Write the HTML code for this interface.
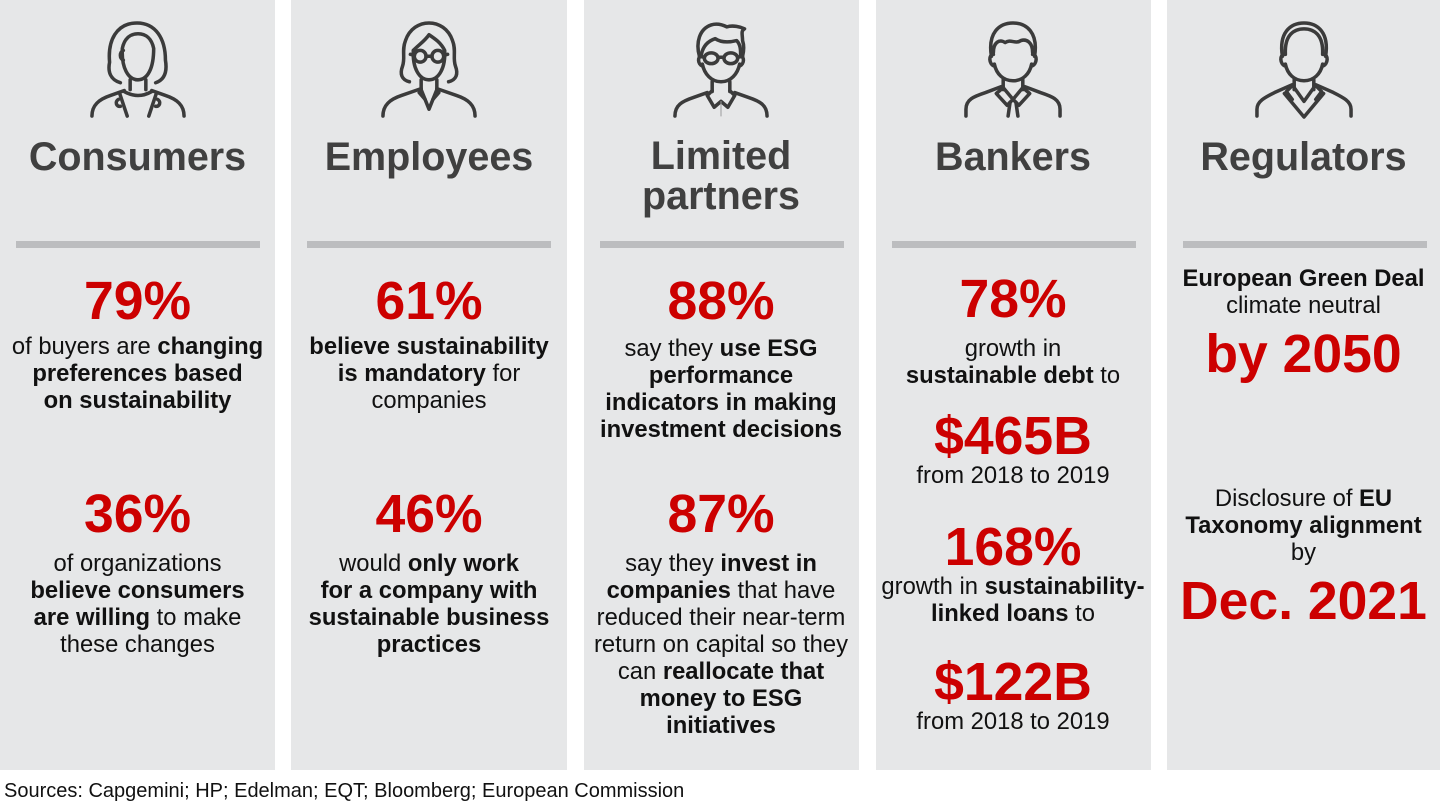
<!DOCTYPE html>
<html>
<head>
<meta charset="utf-8">
<style>
  html,body{margin:0;padding:0;background:#fff;}
  body{width:1440px;height:810px;position:relative;overflow:hidden;font-family:"Liberation Sans",Arial,sans-serif;}
  .col{position:absolute;top:0;height:770px;background:#e6e7e8;}
  .ic{position:absolute;top:21px;left:50%;margin-left:-49px;width:98px;height:98px;}
  .h{position:absolute;left:0;width:100%;text-align:center;font-weight:bold;font-size:39.5px;line-height:40px;color:#404040;white-space:nowrap;}
  .sep{position:absolute;left:16px;width:244px;top:241px;height:7px;background:#bcbdbf;}
  .n{position:absolute;left:0;width:100%;text-align:center;font-weight:bold;font-size:53.5px;line-height:54px;color:#cc0000;white-space:nowrap;}
  .b{position:absolute;left:0;width:100%;text-align:center;font-size:23.8px;line-height:27px;color:#111;white-space:nowrap;}
  .b b{font-weight:bold;}
  .src{position:absolute;left:4px;top:781px;font-size:20px;line-height:20px;color:#111;white-space:nowrap;}
  svg path, svg line, svg ellipse, svg circle{fill:none;stroke:#3b3b3b;stroke-width:3.6;stroke-linecap:round;stroke-linejoin:round;}
</style>
</head>
<body>

<!-- Column 1: Consumers -->
<div class="col" style="left:0;width:275px;">
  <svg class="ic" viewBox="0 0 100 100">
    <path d="M32,63 C22,60 19,52 21,42 C19,20 28,2 49,2 C68,2 78,18 78,40 C80,52 77,60 68,63"/>
    <path d="M34,28 C33,48 40,60 50,60 C60,60 66,48 66,28 C64,18 58,13 50,13 C42,13 36,18 34,28"/>
    <path d="M35,30 C31,32 31,38 35,40"/>
    <path d="M42,60 L42,70"/><path d="M58,60 L58,70"/>
    <path d="M36,72 Q50,80 64,72"/>
    <path d="M3,97 C3,86 10,80 22,76 L36,71"/>
    <path d="M97,97 C97,86 90,80 78,76 L64,71"/>
    <path d="M31,73 L39,97"/><path d="M69,73 L61,97"/>
    <path d="M30,80 C26,82 28,88 32,87"/><path d="M70,80 C74,82 72,88 68,87"/>
  </svg>
  <div class="h" style="top:137.3px;">Consumers</div>
  <div class="sep"></div>
  <div class="n" style="top:275px;">79%</div>
  <div class="b" style="top:333.2px;">of buyers are <b>changing</b><br><b>preferences based</b><br><b>on sustainability</b></div>
  <div class="n" style="top:487.8px;">36%</div>
  <div class="b" style="top:550px;">of organizations<br><b>believe consumers</b><br><b>are willing</b> to make<br>these changes</div>
</div>

<!-- Column 2: Employees -->
<div class="col" style="left:291px;width:276px;">
  <svg class="ic" viewBox="0 0 100 100">
    <path d="M30,62 C22,60 20,54 23,46 C26,38 22,30 26,20 C30,8 40,2 50,2 C60,2 70,8 74,20 C78,30 74,38 77,46 C80,54 78,60 70,62"/>
    <path d="M34,30 C33,48 40,60 50,60 C60,60 67,48 66,30 C62,22 56,18 50,14 C46,20 40,24 34,30"/>
    <circle cx="41" cy="36" r="6"/><circle cx="59" cy="36" r="6"/>
    <path d="M47,36 L53,36"/><path d="M35,35 L31,34"/><path d="M65,35 L69,34"/>
    <path d="M42,60 L42,70"/><path d="M58,60 L58,70"/>
    <path d="M42,70 L50,90 L58,70"/>
    <path d="M3,97 C3,86 10,80 22,76 L42,69"/>
    <path d="M97,97 C97,86 90,80 78,76 L58,69"/>
    <path d="M40,73 L46,80"/><path d="M60,73 L54,80"/>
  </svg>
  <div class="h" style="top:137.3px;">Employees</div>
  <div class="sep"></div>
  <div class="n" style="top:275px;">61%</div>
  <div class="b" style="top:333.2px;"><b>believe sustainability</b><br><b>is mandatory</b> for<br>companies</div>
  <div class="n" style="top:487.8px;">46%</div>
  <div class="b" style="top:550px;">would <b>only work</b><br><b>for a company with</b><br><b>sustainable business</b><br><b>practices</b></div>
</div>

<!-- Column 3: Limited partners -->
<div class="col" style="left:583.5px;width:275px;">
  <svg class="ic" viewBox="0 0 100 100">
    <path d="M28,36 C24,22 28,8 40,4 C46,2 52,4 56,6 C62,4 70,6 74,8 C70,10 72,14 72,20 C74,26 73,32 72,36"/>
    <path d="M30,34 C32,24 38,20 44,18 C50,22 58,22 66,20 C70,24 70,30 70,34"/>
    <path d="M30,36 C26,36 26,44 31,46"/><path d="M70,36 C74,36 74,44 69,46"/>
    <path d="M31,44 C33,54 40,62 50,62 C60,62 67,54 69,44"/>
    <ellipse cx="40" cy="38" rx="7" ry="5.5"/><ellipse cx="60" cy="38" rx="7" ry="5.5"/>
    <path d="M47,37 L53,37"/><path d="M33,37 L28,36"/><path d="M67,37 L72,36"/>
    <path d="M41,62 L41,72"/><path d="M59,62 L59,72"/>
    <path d="M3,97 C3,86 10,82 22,78 L36,73"/>
    <path d="M97,97 C97,86 90,82 78,78 L64,73"/>
    <path d="M41,71 L36,76 L43,88 L50,82 L57,88 L64,76 L59,71"/>
    <path d="M50,82 L50,97" style="stroke-width:1;stroke:#999"/>
  </svg>
  <div class="h" style="top:136.3px;">Limited<br>partners</div>
  <div class="sep"></div>
  <div class="n" style="top:274.5px;">88%</div>
  <div class="b" style="top:335px;">say they <b>use ESG</b><br><b>performance</b><br><b>indicators in making</b><br><b>investment decisions</b></div>
  <div class="n" style="top:487.8px;">87%</div>
  <div class="b" style="top:550px;">say they <b>invest in</b><br><b>companies</b> that have<br>reduced their near-term<br>return on capital so they<br>can <b>reallocate that</b><br><b>money to ESG</b><br><b>initiatives</b></div>
</div>

<!-- Column 4: Bankers -->
<div class="col" style="left:875.5px;width:275px;">
  <svg class="ic" viewBox="0 0 100 100">
    <path d="M28,36 C24,12 36,2 50,2 C64,2 76,12 72,36"/>
    <path d="M30,32 C30,22 36,18 42,22 C48,18 52,24 58,20 C64,18 70,22 70,32"/>
    <path d="M30,34 C25,34 25,44 31,46"/><path d="M70,34 C75,34 75,44 69,46"/>
    <path d="M31,44 C33,54 40,61 50,61 C60,61 67,54 69,44"/>
    <path d="M40,60 L40,70"/><path d="M60,60 L60,70"/>
    <path d="M2,97 L2,90 C2,80 10,77 22,73 L38,67"/>
    <path d="M98,97 L98,90 C98,80 90,77 78,73 L62,67"/>
    <path d="M40,68 L33,74 L44,86 L50,80 L56,86 L67,74 L60,68"/>
    <path d="M40,68 L50,80 L60,68"/>
    <path d="M47,83 L45,97"/><path d="M53,83 L55,97"/>
  </svg>
  <div class="h" style="top:137.3px;">Bankers</div>
  <div class="sep"></div>
  <div class="n" style="top:273px;">78%</div>
  <div class="b" style="top:335px;">growth in<br><b>sustainable debt</b> to</div>
  <div class="n" style="top:409.5px;">$465B</div>
  <div class="b" style="top:461.5px;">from 2018 to 2019</div>
  <div class="n" style="top:521.2px;">168%</div>
  <div class="b" style="top:572.7px;">growth in <b>sustainability-</b><br><b>linked loans</b> to</div>
  <div class="n" style="top:656.2px;">$122B</div>
  <div class="b" style="top:708.2px;">from 2018 to 2019</div>
</div>

<!-- Column 5: Regulators -->
<div class="col" style="left:1167px;width:273px;">
  <svg class="ic" viewBox="0 0 100 100">
    <path d="M28,36 C24,12 36,2 50,2 C64,2 76,12 72,36"/>
    <path d="M31,34 C30,14 40,8 50,8 C60,8 70,14 69,34"/>
    <path d="M30,34 C25,34 25,44 31,46"/><path d="M70,34 C75,34 75,44 69,46"/>
    <path d="M31,44 C33,54 40,61 50,61 C60,61 67,54 69,44"/>
    <path d="M40,60 L40,70"/><path d="M60,60 L60,70"/>
    <path d="M2,97 L2,90 C2,82 10,78 20,73 L38,65"/>
    <path d="M98,97 L98,90 C98,82 90,78 80,73 L62,65"/>
    <path d="M38,66 L32,72 L38,80"/><path d="M62,66 L68,72 L62,80"/>
    <path d="M30,74 L50,98 L70,74"/>
    <path d="M40,68 L50,82 L60,68"/>
  </svg>
  <div class="h" style="top:137.3px;">Regulators</div>
  <div class="sep"></div>
  <div class="b" style="top:265px;"><b>European Green Deal</b><br>climate neutral</div>
  <div class="n" style="top:327.8px;">by 2050</div>
  <div class="b" style="top:485px;">Disclosure of <b>EU</b><br><b>Taxonomy alignment</b><br>by</div>
  <div class="n" style="top:574.5px;">Dec. 2021</div>
</div>

<div class="src">Sources: Capgemini; HP; Edelman; EQT; Bloomberg; European Commission</div>

</body>
</html>
